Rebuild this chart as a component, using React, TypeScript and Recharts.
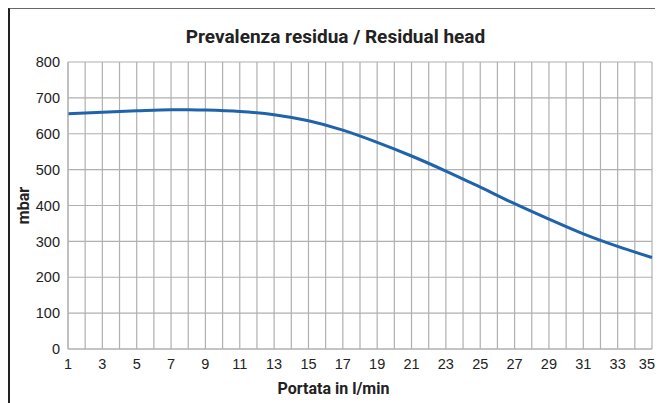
import { CartesianGrid, Line, LineChart, XAxis, YAxis } from "recharts";

// portata (l/min) e prevalenza residua (mbar)
const flow = [1, 3, 5, 7, 8, 9, 11, 13, 15, 17, 19, 21, 23, 25, 27, 29, 31, 33, 35];
const head = [656, 660, 664, 667, 667, 666, 662, 653, 636, 610, 576, 538, 496, 451, 405, 362, 321, 286, 255];

const xTicks = Array.from({ length: 35 }, (_, i) => i + 1);
const yTicks = [0, 100, 200, 300, 400, 500, 600, 700, 800];

const data = flow.map((f, i) => ({ flow: f, head: head[i] }));

const GRID = "#b0b0b0";
const FONT = "Liberation Sans, Arial, sans-serif";
const TICK = { fontSize: 14.5, fill: "#222", fontFamily: FONT };
const LABEL = { fontFamily: "Roboto, sans-serif", fontWeight: 700, color: "#222" } as const;

// solo i numeri dispari; l'ultimo viene allineato a destra per non uscire dal bordo
function FlowTick({ x, y, payload }: any) {
  const v = payload.value as number;
  if (v % 2 === 0) return null;
  const last = v === 35;
  return (
    <text
      x={last ? x + 3 : x}
      y={y + 12}
      textAnchor={last ? "end" : "middle"}
      fontSize={14.5}
      fill="#222"
      fontFamily={FONT}
    >
      {v}
    </text>
  );
}

export default function App() {
  return (
    <div
      style={{
        position: "relative",
        width: 663,
        height: 403,
        margin: "-8px 0 0 -8px",
        background: "#fff",
      }}
    >
      <div
        style={{
          position: "absolute",
          left: 8,
          top: 7,
          width: 655,
          height: 396,
          borderTop: "2px solid #666",
          borderLeft: "2px solid #222",
          boxSizing: "border-box",
        }}
      />
      <div style={{ ...LABEL, position: "absolute", top: 25, left: 8, width: 655, textAlign: "center", fontSize: 19 }}>
        Prevalenza residua / Residual head
      </div>
      <div style={{ ...LABEL, position: "absolute", top: 379, left: 2, width: 663, textAlign: "center", fontSize: 16 }}>
        Portata in l/min
      </div>
      <div
        style={{
          ...LABEL,
          position: "absolute",
          left: 3,
          top: 196,
          transform: "rotate(-90deg)",
          width: 40,
          textAlign: "center",
          fontSize: 16,
        }}
      >
        mbar
      </div>
      <div style={{ position: "absolute", left: 8, top: 8 }}>
        <LineChart
          width={655}
          height={373}
          data={data}
          margin={{ top: 54, right: 11, bottom: 2, left: 0 }}
        >
          <CartesianGrid stroke={GRID} strokeWidth={1.2} />
          <XAxis
            dataKey="flow"
            type="number"
            domain={[1, 35]}
            ticks={xTicks}
            interval={0}
            tick={<FlowTick />}
            tickLine={false}
            axisLine={{ stroke: GRID }}
            height={30}
          />
          <YAxis
            domain={[0, 800]}
            ticks={yTicks}
            tick={TICK}
            tickLine={false}
            axisLine={{ stroke: GRID }}
            width={60}
          />
          <Line
            type="monotone"
            dataKey="head"
            stroke="#1f63ad"
            strokeWidth={3}
            dot={false}
            isAnimationActive={false}
          />
        </LineChart>
      </div>
    </div>
  );
}
